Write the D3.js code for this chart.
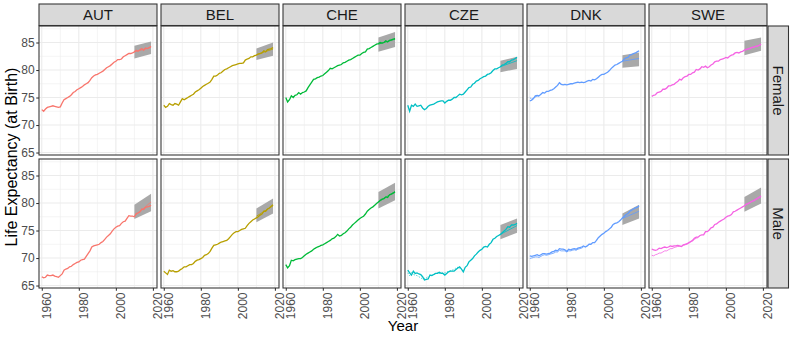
<!DOCTYPE html>
<html>
<head>
<meta charset="utf-8">
<script src="https://cdn.jsdelivr.net/npm/d3@7"></script>
<style>
	body { margin: 0; background: #fff; }
	svg { display: block; font-family: "Liberation Sans", Arial, Helvetica, sans-serif; }
</style>
</head>
<body>
<svg id="chart" width="793" height="340"></svg>
<script>
(function() {
	"use strict";

	var countries = ["AUT", "BEL", "CHE", "CZE", "DNK", "SWE"];
	var sexes = ["Female", "Male"];
	var colours = ["#F8766D", "#B79F00", "#00BA38", "#00BFC4", "#619CFF", "#F564E3"];
	var xTicks = [1960, 1980, 2000, 2020];
	var xMinor = [1970, 1990, 2010];
	var yTicks = [65, 70, 75, 80, 85];
	var yMinor = [67.5, 72.5, 77.5, 82.5, 87.5];
	var years = d3.range(1960, 2020);
	var fcYears = [2010, 2019];

	// observed life expectancy, one value per year 1960-2019
	var femaleAUT = [72.8, 72.5, 72.9, 73.2, 73.3, 73.4, 73.5, 73.4, 73.3, 73.2,
		73.3, 74.0, 74.6, 74.8, 75.0, 75.2, 75.5, 75.9, 76.1, 76.4,
		76.6, 76.8, 77.0, 77.3, 77.5, 77.7, 78.1, 78.6, 78.9, 79.1,
		79.2, 79.4, 79.6, 79.8, 80.1, 80.4, 80.6, 80.8, 81.1, 81.4,
		81.6, 81.9, 81.9, 82.0, 82.4, 82.6, 82.8, 83.0, 83.0, 83.1,
		83.3, 83.6, 83.4, 83.7, 83.9, 83.6, 84.0, 83.9, 84.1, 84.3];
	var femaleBEL = [73.6, 73.2, 73.4, 73.9, 73.7, 73.6, 73.9, 73.8, 73.6, 74.2,
		74.8, 74.6, 74.8, 75.0, 75.2, 75.4, 75.6, 76.0, 76.2, 76.4,
		76.7, 77.0, 77.2, 77.4, 77.6, 77.8, 78.3, 78.9, 78.9, 79.1,
		79.4, 79.5, 79.8, 80.1, 80.2, 80.4, 80.6, 80.8, 80.9, 81.0,
		81.1, 81.2, 81.2, 81.3, 81.8, 82.0, 82.1, 82.4, 82.4, 82.6,
		82.7, 82.9, 83.0, 83.1, 83.5, 83.3, 83.7, 83.8, 83.9, 84.1];
	var femaleCHE = [75.0, 74.2, 74.6, 75.3, 75.0, 75.4, 75.5, 75.9, 75.6, 75.9,
		76.0, 76.2, 76.8, 77.3, 77.8, 78.3, 78.4, 78.6, 78.7, 78.9,
		79.0, 79.3, 79.6, 79.9, 80.3, 80.2, 80.4, 80.6, 80.8, 80.9,
		81.0, 81.3, 81.4, 81.6, 81.8, 81.9, 82.1, 82.3, 82.5, 82.7,
		82.7, 83.0, 83.2, 83.3, 83.8, 83.9, 84.1, 84.3, 84.5, 84.7,
		84.8, 85.0, 84.9, 85.0, 85.3, 85.1, 85.4, 85.5, 85.6, 85.7];
	var femaleCZE = [73.6, 72.5, 73.6, 73.4, 73.8, 73.4, 73.5, 73.6, 73.1, 72.8,
		73.0, 73.4, 73.6, 73.7, 73.8, 74.0, 74.2, 74.3, 74.4, 74.4,
		74.0, 74.3, 74.5, 74.5, 74.7, 75.0, 75.0, 75.3, 75.6, 75.5,
		75.6, 76.0, 76.4, 76.8, 76.9, 77.4, 77.6, 78.0, 78.1, 78.4,
		78.6, 78.8, 78.9, 79.2, 79.3, 79.5, 79.9, 80.2, 80.2, 80.4,
		80.6, 80.9, 81.0, 81.2, 81.5, 81.5, 81.8, 81.9, 82.1, 82.3];
	var femaleDNK = [74.4, 74.5, 74.8, 75.3, 75.4, 75.3, 75.6, 75.9, 75.8, 76.1,
		76.1, 76.3, 76.4, 76.6, 76.9, 77.2, 77.7, 77.4, 77.3, 77.4,
		77.3, 77.4, 77.5, 77.5, 77.6, 77.7, 77.8, 77.7, 77.8, 77.7,
		77.8, 78.0, 78.1, 78.0, 78.3, 78.2, 78.4, 78.7, 79.0, 79.2,
		79.2, 79.4, 79.6, 79.9, 80.3, 80.6, 80.9, 81.0, 81.2, 81.4,
		81.6, 82.0, 82.2, 82.3, 82.7, 82.8, 83.0, 83.1, 83.3, 83.5];
	var femaleSWE = [75.2, 75.4, 75.5, 75.9, 76.0, 76.1, 76.5, 76.5, 76.7, 77.1,
		77.1, 77.3, 77.4, 77.7, 77.9, 78.3, 78.2, 78.6, 78.8, 78.9,
		79.2, 79.2, 79.5, 79.6, 80.1, 80.0, 80.2, 80.6, 80.5, 80.7,
		80.4, 80.6, 80.9, 81.1, 81.5, 81.6, 81.6, 81.9, 82.0, 82.1,
		82.3, 82.2, 82.5, 82.7, 82.8, 83.1, 83.2, 83.1, 83.3, 83.4,
		83.6, 83.7, 83.8, 83.9, 84.1, 84.1, 84.3, 84.3, 84.5, 84.7];

	var maleAUT = [66.6, 66.4, 66.5, 66.9, 66.8, 66.8, 66.9, 66.7, 66.6, 66.5,
		66.8, 67.1, 67.8, 68.0, 68.1, 68.4, 68.5, 68.8, 69.0, 69.2,
		69.3, 69.6, 69.7, 69.8, 70.3, 70.8, 71.3, 72.0, 72.2, 72.3,
		72.4, 72.5, 72.8, 73.0, 73.4, 73.8, 74.1, 74.4, 74.9, 75.3,
		75.6, 75.8, 75.9, 76.3, 76.6, 76.7, 77.2, 77.7, 77.6, 77.6,
		77.5, 78.1, 78.2, 78.4, 78.9, 78.8, 79.2, 79.3, 79.4, 79.6];
	var maleBEL = [67.6, 67.3, 67.0, 67.8, 67.6, 67.7, 67.5, 67.5, 67.6, 67.9,
		68.1, 68.4, 68.4, 68.6, 68.8, 68.8, 69.0, 69.4, 69.6, 69.7,
		69.9, 70.1, 70.5, 70.6, 70.8, 71.2, 71.8, 72.3, 72.4, 72.5,
		72.7, 72.9, 73.0, 73.1, 73.2, 73.5, 73.9, 74.3, 74.6, 74.8,
		74.8, 75.0, 75.2, 75.3, 75.4, 75.9, 76.3, 76.6, 76.9, 77.1,
		77.3, 77.5, 77.8, 78.0, 78.5, 78.5, 78.9, 79.1, 79.4, 79.7];
	var maleCHE = [68.8, 68.2, 68.6, 69.6, 69.5, 69.7, 69.8, 69.9, 69.9, 70.1,
		70.4, 70.7, 70.9, 71.1, 71.3, 71.6, 71.8, 72.0, 72.1, 72.3,
		72.4, 72.6, 72.8, 73.0, 73.2, 73.5, 73.6, 73.9, 74.3, 74.0,
		74.1, 74.4, 74.6, 74.9, 75.3, 75.6, 76.0, 76.3, 76.6, 76.9,
		77.2, 77.4, 77.6, 78.0, 78.5, 78.8, 79.1, 79.3, 79.6, 79.9,
		80.2, 80.5, 80.7, 80.8, 81.1, 81.0, 81.5, 81.6, 81.8, 82.0];
	var maleCZE = [67.8, 67.3, 66.9, 67.6, 67.2, 67.3, 67.1, 67.0, 66.6, 66.0,
		66.1, 66.2, 66.9, 66.8, 67.0, 67.2, 67.2, 67.4, 67.2, 67.2,
		66.9, 67.2, 67.5, 67.6, 67.6, 67.6, 67.9, 68.2, 68.4, 68.0,
		67.5, 68.3, 68.6, 69.3, 69.6, 69.9, 70.4, 70.7, 71.1, 71.4,
		71.6, 72.0, 72.1, 72.0, 72.5, 72.8, 73.4, 73.6, 73.9, 74.1,
		74.3, 74.6, 74.9, 75.2, 75.7, 75.6, 76.0, 76.0, 76.1, 76.3];
	var maleDNK = [70.4, 70.3, 70.4, 70.5, 70.6, 70.4, 70.6, 70.8, 70.8, 70.7,
		70.8, 70.9, 71.1, 71.2, 71.4, 71.3, 71.7, 71.6, 71.6, 71.5,
		71.2, 71.6, 71.5, 71.6, 71.7, 71.6, 71.8, 71.9, 72.0, 72.2,
		72.0, 72.2, 72.5, 72.5, 72.8, 72.8, 73.2, 73.7, 74.0, 74.3,
		74.5, 74.8, 75.0, 75.3, 75.6, 76.1, 76.3, 76.4, 76.6, 76.9,
		77.3, 77.6, 77.9, 78.1, 78.5, 78.7, 78.9, 79.1, 79.2, 79.5];
	var maleSWE = [71.6, 71.5, 71.4, 71.5, 71.8, 71.7, 71.9, 72.0, 71.9, 72.0,
		72.2, 72.1, 72.2, 72.2, 72.3, 72.2, 72.1, 72.4, 72.5, 72.6,
		72.8, 73.0, 73.2, 73.6, 73.8, 73.8, 74.1, 74.2, 74.2, 74.8,
		74.8, 75.1, 75.5, 75.6, 76.1, 76.2, 76.5, 76.7, 76.9, 77.1,
		77.4, 77.6, 77.7, 77.9, 78.4, 78.5, 78.7, 78.9, 79.1, 79.3,
		79.5, 79.8, 79.9, 80.1, 80.3, 80.4, 80.6, 80.8, 81.0, 81.2];

	// second, partly diverging series seen in a few panels (from 1960)
	var altMaleDNK = [69.9, 70.0, 70.1, 70.2, 70.2, 70.1, 70.3, 70.5, 70.6, 70.5,
		70.6, 70.7, 70.8, 70.9, 71.1, 71.1, 71.4, 71.3, 71.3, 71.3,
		71.1, 71.3, 71.3, 71.4, 71.5, 71.4, 71.6, 71.7, 71.8, 72.0];
	var altMaleSWE = [70.5, 70.4, 70.6, 70.7, 70.9, 70.9, 71.1, 71.3, 71.3, 71.5,
		71.7, 71.7, 71.9, 72.0, 72.1, 72.1, 72.1, 72.3, 72.4, 72.5,
		72.7, 72.9, 73.1, 73.4, 73.6, 73.7];
	var altFemaleDNK = [75.0, 74.7, 74.9, 75.1, 75.3, 75.2];
	var altMaleCZE = [67.3, 66.8, 67.5, 67.0, 66.9, 66.8, 66.6, 66.4, 66.2, 66.3,
		66.4, 66.6, 66.7, 66.9, 67.0, 67.1, 67.3, 67.2, 67.4, 67.3,
		67.3, 67.4, 67.6, 67.7, 67.8, 67.9, 68.2, 68.3, 68.1, 68.4];

	// forecast mean and interval at 2010 and 2019, in country order
	var fcMeanFemale = [[83.3, 84.1], [82.8, 83.8], [84.7, 85.6], [80.6, 81.7], [81.6, 82.1], [83.7, 84.6]];
	var fcLoFemale = [[82.1, 82.9], [81.8, 82.6], [83.3, 84.2], [79.6, 80.2], [80.4, 80.7], [82.7, 83.5]];
	var fcHiFemale = [[84.4, 85.2], [83.9, 85.0], [85.9, 86.9], [81.7, 82.4], [82.7, 83.2], [85.3, 85.9]];
	var fcMeanMale = [[77.6, 80.2], [77.6, 79.5], [80.2, 82.1], [74.3, 75.9], [77.2, 78.5], [79.5, 81.3]];
	var fcLoMale = [[77.1, 78.5], [76.5, 78.1], [79.0, 80.5], [73.4, 74.6], [76.0, 77.2], [78.4, 79.9]];
	var fcHiMale = [[79.7, 81.7], [79.0, 80.8], [82.0, 83.7], [76.0, 77.2], [78.1, 79.7], [81.1, 82.8]];

	var observed = [
		[femaleAUT, femaleBEL, femaleCHE, femaleCZE, femaleDNK, femaleSWE],
		[maleAUT, maleBEL, maleCHE, maleCZE, maleDNK, maleSWE]
	];
	var second = [
		[null, null, null, null, altFemaleDNK, null],
		[null, null, null, altMaleCZE, altMaleDNK, altMaleSWE]
	];
	var fcMean = [fcMeanFemale, fcMeanMale];
	var fcLo = [fcLoFemale, fcLoMale];
	var fcHi = [fcHiFemale, fcHiMale];

	var left = 39, top = 26;
	var pw = 118, ph = 129;
	var colStep = 122, rowStep = 133;

	var svg = d3.select("#chart");

	var x = d3.scaleLinear().domain([1958.5, 2022.2]).range([0, pw]);
	var y = d3.scaleLinear().domain([64.55, 88.0]).range([ph, 0]);

	var line = d3.line()
		.x(function(d) { return x(d[0]); })
		.y(function(d) { return y(d[1]); });

	var area = d3.area()
		.x(function(d) { return x(d.year); })
		.y0(function(d) { return y(d.lo); })
		.y1(function(d) { return y(d.hi); });

	sexes.forEach(function(sex, r) {
		countries.forEach(function(country, c) {
			var g = svg.append("g")
				.attr("transform", "translate(" + (left + c * colStep) + "," + (top + r * rowStep) + ")");

			g.append("rect")
				.attr("width", pw)
				.attr("height", ph)
				.attr("fill", "#fff");

			g.selectAll(".minor-x").data(xMinor).enter().append("line")
				.attr("x1", x).attr("x2", x)
				.attr("y1", 0).attr("y2", ph)
				.attr("stroke", "#ebebeb").attr("stroke-width", 0.55);
			g.selectAll(".minor-y").data(yMinor).enter().append("line")
				.attr("y1", y).attr("y2", y)
				.attr("x1", 0).attr("x2", pw)
				.attr("stroke", "#ebebeb").attr("stroke-width", 0.55);
			g.selectAll(".major-x").data(xTicks).enter().append("line")
				.attr("x1", x).attr("x2", x)
				.attr("y1", 0).attr("y2", ph)
				.attr("stroke", "#ebebeb").attr("stroke-width", 1.1);
			g.selectAll(".major-y").data(yTicks).enter().append("line")
				.attr("y1", y).attr("y2", y)
				.attr("x1", 0).attr("x2", pw)
				.attr("stroke", "#ebebeb").attr("stroke-width", 1.1);

			var band = fcYears.map(function(yr, i) {
				return { year: yr, lo: fcLo[r][c][i], hi: fcHi[r][c][i] };
			});
			g.append("path")
				.datum(band)
				.attr("d", area)
				.attr("fill", "#a9a9a9");

			if (second[r][c]) {
				var alt = second[r][c].map(function(v, i) { return [years[i], v]; });
				g.append("path")
					.datum(alt)
					.attr("d", line)
					.attr("fill", "none")
					.attr("stroke", colours[c])
					.attr("stroke-width", 0.8)
					.attr("stroke-dasharray", c === 3 ? "1.2,1.6" : null);
			}

			var obs = years.map(function(yr, i) { return [yr, observed[r][c][i]]; });
			g.append("path")
				.datum(obs)
				.attr("d", line)
				.attr("fill", "none")
				.attr("stroke", colours[c])
				.attr("stroke-width", 1.3);

			var fc = fcYears.map(function(yr, i) { return [yr, fcMean[r][c][i]]; });
			g.append("path")
				.datum(fc)
				.attr("d", line)
				.attr("fill", "none")
				.attr("stroke", colours[c])
				.attr("stroke-width", 0.8);

			g.append("rect")
				.attr("width", pw)
				.attr("height", ph)
				.attr("fill", "none")
				.attr("stroke", "#333")
				.attr("stroke-width", 1.07);

			if (c === 0) {
				var ya = g.append("g")
					.call(d3.axisLeft(y).tickValues(yTicks).tickSize(2.75).tickPadding(1.6));
				ya.select(".domain").remove();
				ya.selectAll(".tick line").attr("stroke", "#333").attr("stroke-width", 1.07);
				ya.selectAll(".tick text")
					.attr("fill", "#4d4d4d")
					.style("font-size", "12px");
			}

			if (r === sexes.length - 1) {
				var xa = g.append("g")
					.attr("transform", "translate(0," + ph + ")")
					.call(d3.axisBottom(x).tickValues(xTicks).tickFormat(d3.format("d")).tickSize(2.75));
				xa.select(".domain").remove();
				xa.selectAll(".tick line").attr("stroke", "#333").attr("stroke-width", 1.07);
				xa.selectAll(".tick text")
					.attr("fill", "#4d4d4d")
					.style("font-size", "12px")
					.attr("text-anchor", "end")
					.attr("transform", "translate(0,4.5) rotate(-90)")
					.attr("x", 0)
					.attr("y", 0)
					.attr("dy", "0.71em");
			}

			if (r === 0) {
				var st = svg.append("g")
					.attr("transform", "translate(" + (left + c * colStep) + ",4)");
				st.append("rect")
					.attr("width", pw)
					.attr("height", 21.5)
					.attr("fill", "#d9d9d9")
					.attr("stroke", "#333")
					.attr("stroke-width", 1.07);
				st.append("text")
					.attr("x", pw / 2)
					.attr("y", 11)
					.attr("dy", "0.36em")
					.attr("text-anchor", "middle")
					.attr("fill", "#1a1a1a")
					.style("font-size", "15px")
					.text(country);
			}
		});

		var rs = svg.append("g")
			.attr("transform", "translate(768," + (top + r * rowStep) + ")");
		rs.append("rect")
			.attr("width", 20.5)
			.attr("height", ph)
			.attr("fill", "#d9d9d9")
			.attr("stroke", "#333")
			.attr("stroke-width", 1.07);
		rs.append("text")
			.attr("transform", "translate(10.25," + (ph / 2) + ") rotate(90)")
			.attr("dy", "0.36em")
			.attr("text-anchor", "middle")
			.attr("fill", "#1a1a1a")
			.style("font-size", "15px")
			.text(sex);
	});

	svg.append("text")
		.attr("transform", "translate(17," + (top + (rowStep + ph) / 2) + ") rotate(-90)")
		.attr("text-anchor", "middle")
		.attr("fill", "#000")
		.style("font-size", "16px")
		.text("Life Expectancy (at Birth)");

	svg.append("text")
		.attr("x", left + (5 * colStep + pw) / 2)
		.attr("y", 331)
		.attr("text-anchor", "middle")
		.attr("fill", "#000")
		.style("font-size", "15px")
		.text("Year");
})();
</script>
</body>
</html>
